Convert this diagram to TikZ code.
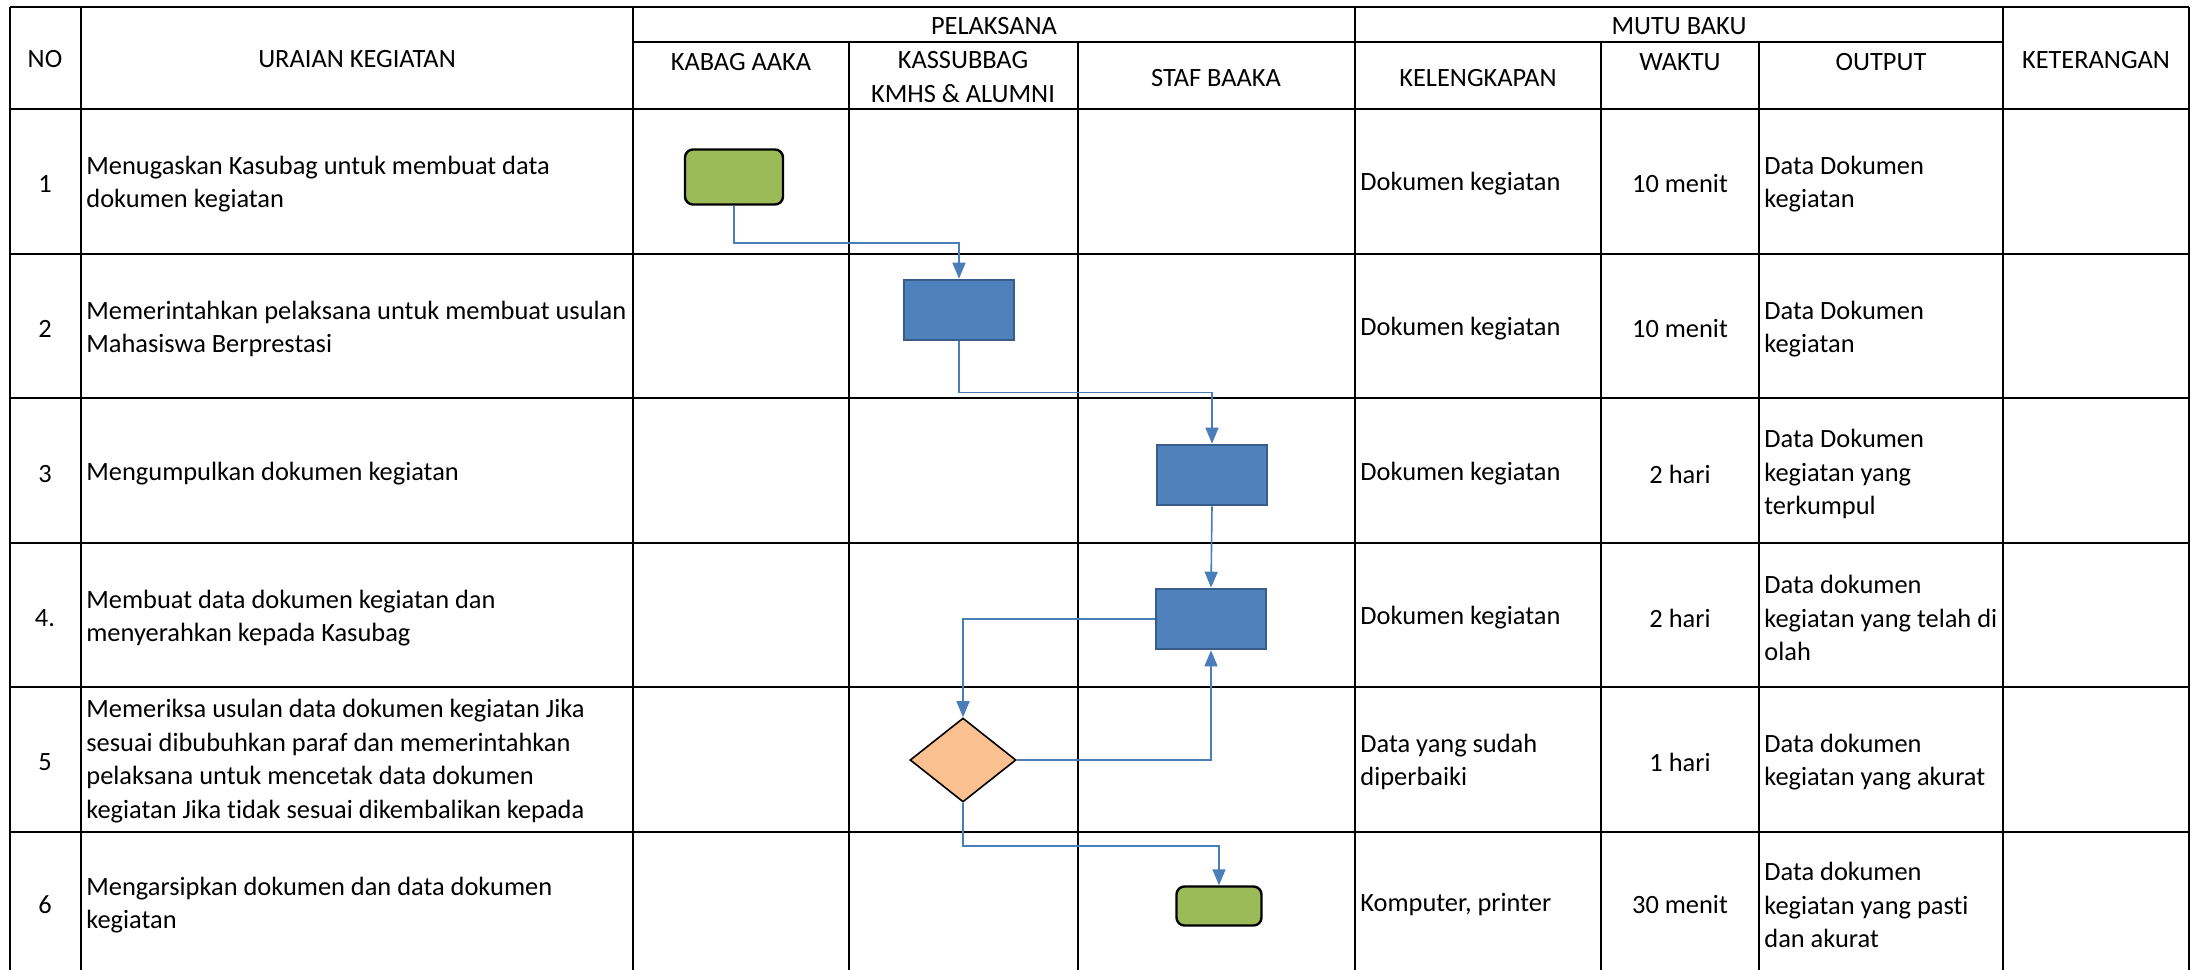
\documentclass[tikz,border=0pt]{standalone}
\usepackage{fontspec}
\setmainfont{Carlito}[Ligatures=NoCommon]
\usepackage{tikz}
\usetikzlibrary{shapes.geometric, arrows.meta}
\definecolor{hijau}{HTML}{9BBB59}
\definecolor{biru}{HTML}{4F81BD}
\definecolor{birutua}{HTML}{385D8A}
\definecolor{oranye}{HTML}{FAC090}
\definecolor{garis}{HTML}{4A7EBB}

\begin{document}
\begin{tikzpicture}[x=0.5pt, y=-0.5pt,
    every node/.style = {font=\fontsize{13.2}{16.75}\selectfont, inner sep=0pt},
    kiri/.style = {anchor=west, align=left},
    tengah/.style = {align=center},
    grid/.style = {line width=1pt},
    term/.style = {draw=black, line width=1.2pt, rounded corners=4pt, fill=hijau},
    proc/.style = {draw=birutua, line width=1.3pt, fill=biru, minimum width=55pt, minimum height=30pt},
    dec/.style = {diamond, draw=black, line width=0.8pt, fill=oranye, minimum width=53pt, minimum height=42pt},
    flow/.style = {draw=garis, line width=0.8pt, -{Triangle[width=6.5pt, length=8pt]}}]
    \useasboundingbox (0,0) rectangle (2192,970);

    % tabel
    \draw[grid] (10,7) -- (2189,7);
    \foreach \y in {109,254,398,543,687,832}
        \draw[grid] (10,\y) -- (2189,\y);
    \draw[grid] (633,42) -- (2003,42);
    \foreach \x in {10,81,633,1355,2003,2189}
        \draw[grid] (\x,7) -- (\x,970);
    \foreach \x in {849,1078,1601,1759}
        \draw[grid] (\x,42) -- (\x,970);

    % kepala tabel
    \node (hno) at (45,59) {NO};
    \node (hurai) at (357,59) {URAIAN KEGIATAN};
    \node (hpel) at (994,26) {PELAKSANA};
    \node (hmutu) at (1679,26) {MUTU BAKU};
    \node (hket) at (2096,60) {KETERANGAN};
    \node (hkabag) at (741,62) {KABAG AAKA};
    \node[tengah] (hkasub) at (963,77) {KASSUBBAG\\KMHS \& ALUMNI};
    \node (hstaf) at (1216,78) {STAF BAAKA};
    \node (hleng) at (1478,78) {KELENGKAPAN};
    \node (hwaktu) at (1680,62) {WAKTU};
    \node (hout) at (1881,62) {OUTPUT};

    % baris 1
    \node (no1) at (45,184) {1};
    \node[kiri] (ur1) at (86,184) {Menugaskan Kasubag untuk membuat data\\dokumen kegiatan};
    \node[kiri] (kl1) at (1360,184) {Dokumen kegiatan};
    \node (wk1) at (1680,184) {10 menit};
    \node[kiri] (op1) at (1764,184) {Data Dokumen\\kegiatan};
    % baris 2
    \node (no2) at (45,329) {2};
    \node[kiri] (ur2) at (86,329) {Memerintahkan pelaksana untuk membuat usulan\\Mahasiswa Berprestasi};
    \node[kiri] (kl2) at (1360,329) {Dokumen kegiatan};
    \node (wk2) at (1680,329) {10 menit};
    \node[kiri] (op2) at (1764,329) {Data Dokumen\\kegiatan};
    % baris 3
    \node (no3) at (45,474) {3};
    \node[kiri] (ur3) at (86,474) {Mengumpulkan dokumen kegiatan};
    \node[kiri] (kl3) at (1360,474) {Dokumen kegiatan};
    \node (wk3) at (1680,474) {2 hari};
    \node[kiri] (op3) at (1764,474) {Data Dokumen\\kegiatan yang\\terkumpul};
    % baris 4
    \node (no4) at (45,618) {4.};
    \node[kiri] (ur4) at (86,618) {Membuat data dokumen kegiatan dan\\menyerahkan kepada Kasubag};
    \node[kiri] (kl4) at (1360,618) {Dokumen kegiatan};
    \node (wk4) at (1680,618) {2 hari};
    \node[kiri] (op4) at (1764,618) {Data dokumen\\kegiatan yang telah di\\olah};
    % baris 5
    \node (no5) at (45,762) {5};
    \node[kiri] (ur5) at (86,761) {Memeriksa usulan data dokumen kegiatan Jika\\sesuai dibubuhkan paraf dan memerintahkan\\pelaksana untuk mencetak data dokumen\\kegiatan Jika tidak sesuai dikembalikan kepada};
    \node[kiri] (kl5) at (1360,762) {Data yang sudah\\diperbaiki};
    \node (wk5) at (1680,762) {1 hari};
    \node[kiri] (op5) at (1764,762) {Data dokumen\\kegiatan yang akurat};
    % baris 6
    \node (no6) at (45,905) {6};
    \node[kiri] (ur6) at (86,905) {Mengarsipkan dokumen dan data dokumen\\kegiatan};
    \node[kiri] (kl6) at (1360,905) {Komputer, printer};
    \node (wk6) at (1680,905) {30 menit};
    \node[kiri] (op6) at (1764,905) {Data dokumen\\kegiatan yang pasti\\dan akurat};

    % alur
    \node[term, minimum width=49pt, minimum height=27.5pt] (mulai) at (734,177) {};
    \node[proc] (usul) at (959,310) {};
    \node[proc] (kumpul) at (1212,475) {};
    \node[proc] (olah) at (1211,619) {};
    \node[dec] (periksa) at (963,760) {};
    \node[term, minimum width=42.5pt, minimum height=19.5pt] (arsip) at (1219,906) {};

    \draw[flow] (mulai.south) -- ++(0,37) -| (usul.north);
    \draw[flow] (usul.south) -- ++(0,51) -| (kumpul.north);
    \draw[flow] (kumpul.south) -- (olah.north);
    \draw[flow] (olah.west) -| (periksa.north);
    \draw[flow] (periksa.east) -| (olah.south);
    \draw[flow] (periksa.south) -- ++(0,43) -| (arsip.north);
\end{tikzpicture}
\end{document}
